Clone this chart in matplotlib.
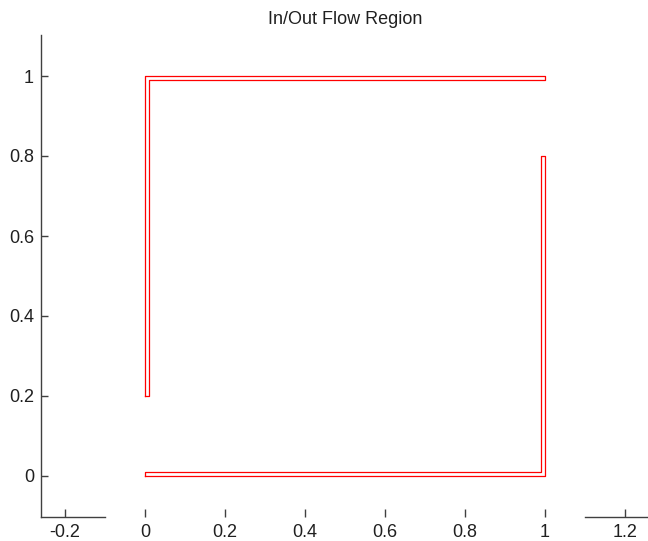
import matplotlib.pyplot as plt
import matplotlib.transforms as mtransforms

plt.rcParams['font.family'] = 'Liberation Sans'

# inflow wall (top-left L)
wall1_x = [0, 0, 1, 1, 0.01, 0.01, 0]
wall1_y = [0.2, 1, 1, 0.99, 0.99, 0.2, 0.2]

# outflow wall (bottom-right L)
wall2_x = [0, 1, 1, 0.99, 0.99, 0, 0]
wall2_y = [0, 0, 0.8, 0.8, 0.01, 0.01, 0]

xticks = [-0.2, 0, 0.2, 0.4, 0.6, 0.8, 1, 1.2]
xlabels = ['-0.2', '0', '0.2', '0.4', '0.6', '0.8', '1', '1.2']
yticks = [0, 0.2, 0.4, 0.6, 0.8, 1]
ylabels = ['0', '0.2', '0.4', '0.6', '0.8', '1']

fig = plt.figure(figsize=(6.48, 5.41), dpi=100)
ax = fig.add_axes([41 / 648, 24 / 541, 608 / 648, 482 / 541])

ax.plot(wall1_x, wall1_y, color='red', lw=0.9)
ax.plot(wall2_x, wall2_y, color='red', lw=0.9)

ax.set_xlim(-0.26, 1.26)
ax.set_ylim(-0.1025, 1.1025)
ax.set_xticks(xticks)
ax.set_xticklabels(xlabels)
ax.set_yticks(yticks)
ax.set_yticklabels(ylabels)

axcol = '#404040'
for s in ['top', 'right', 'bottom']:
    ax.spines[s].set_visible(False)
ax.spines['left'].set_color(axcol)
ax.spines['left'].set_linewidth(1.0)

# x axis line is broken between -0.1 and 1.1
trans = mtransforms.blended_transform_factory(ax.transData, ax.transAxes)
ax.plot([-0.26, -0.1], [0, 0], color=axcol, lw=1.0, transform=trans, clip_on=False)
ax.plot([1.1, 1.3], [0, 0], color=axcol, lw=1.0, transform=trans, clip_on=False)

ax.tick_params(axis='both', direction='in', length=5, width=1.0, color=axcol,
               labelsize=13, labelcolor='#202020', pad=5)
ax.tick_params(axis='x', length=5.8)

ax.set_title('In/Out Flow Region', fontsize=13, color='#202020', pad=8)

fig.savefig('out.png', dpi=100)
